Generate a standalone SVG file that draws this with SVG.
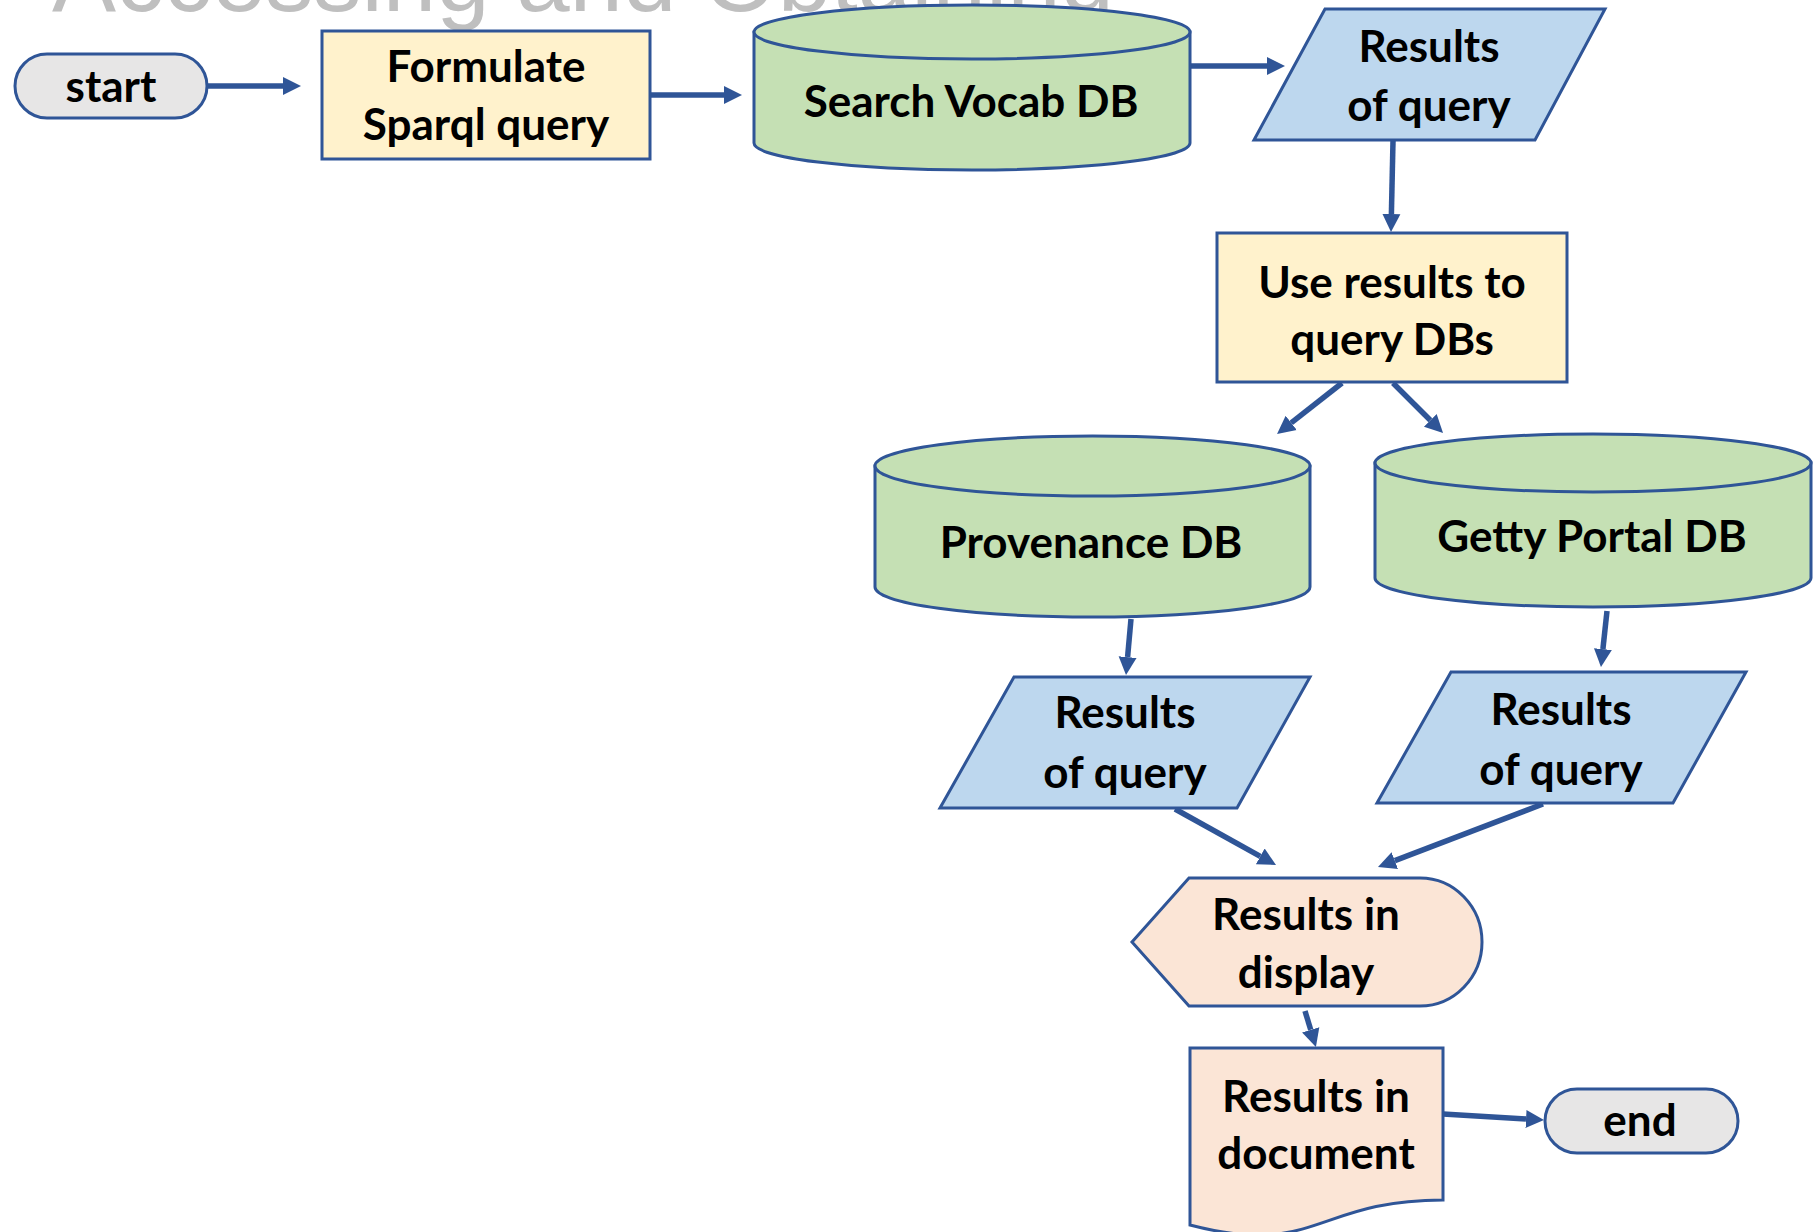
<svg xmlns="http://www.w3.org/2000/svg" width="1819" height="1232" viewBox="0 0 1819 1232">
<defs>
<style>
.sh{stroke:#2f5597;stroke-width:3}
.term{fill:#e7e6e6}
.proc{fill:#fff2cc}
.db{fill:#c5e0b4}
.io{fill:#bdd7ee}
.out{fill:#fbe5d6}
.t{font-family:Lato,"Liberation Sans",sans-serif;font-weight:bold;font-size:44px;fill:#000;text-anchor:middle}
.title{font-family:"Liberation Sans",Arial,sans-serif;font-size:96px;fill:#bfbfbf}
.c{stroke:#2f5597;stroke-width:5.5;fill:none;marker-end:url(#ah)}
</style>
<marker id="ah" markerUnits="userSpaceOnUse" viewBox="0 -10 18 20" markerWidth="18" markerHeight="20" refX="0" refY="0" orient="auto">
<path d="M0,-9 L18,0 L0,9 Z" fill="#2f5597"/>
</marker>
</defs>
<rect width="1819" height="1232" fill="#fff"/>
<text class="title" x="52" y="11">Accessing and Obtaining</text>

<g id="connectors">
<line class="c" x1="207" y1="86" x2="283" y2="86"/>
<line class="c" x1="650" y1="95" x2="724" y2="95"/>
<line class="c" x1="1190" y1="66" x2="1267" y2="66"/>
<line class="c" x1="1393" y1="141" x2="1391.4" y2="214"/>
<line class="c" x1="1342" y1="383" x2="1291.2" y2="422.9"/>
<line class="c" x1="1393" y1="383" x2="1430.3" y2="420.3"/>
<line class="c" x1="1131" y1="619" x2="1127.6" y2="657.1"/>
<line class="c" x1="1607" y1="611" x2="1602.9" y2="649.1"/>
<line class="c" x1="1175" y1="809" x2="1260.3" y2="856.3"/>
<line class="c" x1="1543" y1="804" x2="1394.8" y2="860.6"/>
<line class="c" x1="1305" y1="1011" x2="1310.7" y2="1029.8"/>
<line class="c" x1="1443" y1="1114" x2="1526" y2="1118.9"/>
</g>

<g id="start">
<rect class="sh term" x="15" y="54" width="192" height="64" rx="32"/>
<text class="t" x="111" y="102">start</text>
</g>

<g id="formulate">
<rect class="sh proc" x="322" y="31" width="328" height="128"/>
<text class="t" x="486" y="82">Formulate</text>
<text class="t" x="486" y="140">Sparql query</text>
</g>

<g id="search-vocab-db">
<path class="sh db" d="M754,32 L754,143 A218,27 0 0 0 1190,143 L1190,32 Z"/>
<ellipse class="sh db" cx="972" cy="32" rx="218" ry="27"/>
<text class="t" x="971" y="117">Search Vocab DB</text>
</g>

<g id="results-1">
<polygon class="sh io" points="1325,9 1605,9 1535,140 1254,140"/>
<text class="t" x="1429" y="62">Results</text>
<text class="t" x="1429" y="121">of query</text>
</g>

<g id="use-results">
<rect class="sh proc" x="1217" y="233" width="350" height="149"/>
<text class="t" x="1392" y="298">Use results to</text>
<text class="t" x="1392" y="355">query DBs</text>
</g>

<g id="provenance-db">
<path class="sh db" d="M875,466 L875,587 A217.5,30 0 0 0 1310,587 L1310,466 Z"/>
<ellipse class="sh db" cx="1092.5" cy="466" rx="217.5" ry="30"/>
<text class="t" x="1091" y="558">Provenance DB</text>
</g>

<g id="getty-portal-db">
<path class="sh db" d="M1375,463 L1375,578 A218,29 0 0 0 1811,578 L1811,463 Z"/>
<ellipse class="sh db" cx="1593" cy="463" rx="218" ry="29"/>
<text class="t" x="1592" y="552">Getty Portal DB</text>
</g>

<g id="results-2">
<polygon class="sh io" points="1014,677 1310,677 1237,808 940,808"/>
<text class="t" x="1125" y="728">Results</text>
<text class="t" x="1125" y="788">of query</text>
</g>

<g id="results-3">
<polygon class="sh io" points="1451,672 1746,672 1673,803 1377,803"/>
<text class="t" x="1561" y="725">Results</text>
<text class="t" x="1561" y="785">of query</text>
</g>

<g id="results-display">
<path class="sh out" d="M1189,878 L1420,878 A62,64 0 0 1 1420,1006 L1189,1006 L1132,942 Z"/>
<text class="t" x="1306" y="930">Results in</text>
<text class="t" x="1306" y="988">display</text>
</g>

<g id="results-document">
<path class="sh out" d="M1190,1048 L1443,1048 L1443,1200 C1316,1200 1316,1258 1190,1225 Z"/>
<text class="t" x="1316" y="1112">Results in</text>
<text class="t" x="1316" y="1169">document</text>
</g>

<g id="end">
<rect class="sh term" x="1545" y="1089" width="193" height="64" rx="32"/>
<text class="t" x="1640" y="1136">end</text>
</g>
</svg>
